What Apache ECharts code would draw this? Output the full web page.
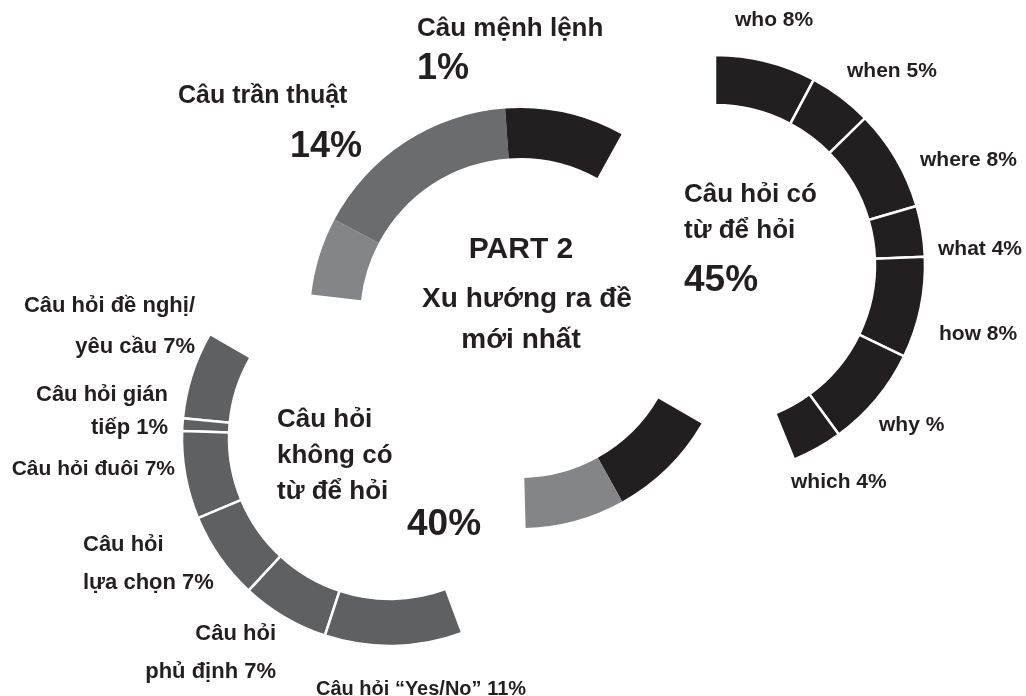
<!DOCTYPE html>
<html>
<head>
<meta charset="utf-8">
<script src="https://cdn.jsdelivr.net/npm/echarts@6/dist/echarts.min.js"></script>
<style>
html,body{margin:0;padding:0;background:#fff;}
#chart{width:1026px;height:696px;}
</style>
</head>
<body>
<div id="chart"></div>
<script>
// ---------- DATA ----------
const mainCategories = ['Câu mệnh lệnh', 'Câu trần thuật', 'Câu hỏi có từ để hỏi', 'Câu hỏi không có từ để hỏi'];
const mainPercents = [1, 14, 45, 40];

const whNames = ['who', 'when', 'where', 'what', 'how', 'why', 'which'];
const whValues = [8, 5, 8, 4, 8, 8, 4];          // "why" read as 8 (45 - others)
const whLabels = ['who 8%', 'when 5%', 'where 8%', 'what 4%', 'how 8%', 'why %', 'which 4%'];

const nonWhNames = ['Câu hỏi đề nghị/yêu cầu', 'Câu hỏi gián tiếp', 'Câu hỏi đuôi', 'Câu hỏi lựa chọn', 'Câu hỏi phủ định', 'Câu hỏi “Yes/No”'];
const nonWhValues = [7, 1, 7, 7, 7, 11];
const nonWhLabels = [
  ['Câu hỏi đề nghị/', 'yêu cầu 7%'],
  ['Câu hỏi gián', 'tiếp 1%'],
  ['Câu hỏi đuôi 7%'],
  ['Câu hỏi', 'lựa chọn 7%'],
  ['Câu hỏi', 'phủ định 7%'],
  ['Câu hỏi “Yes/No” 11%']
];

// central decorative ring (shares in % units, gaps included)
const centerKinds = ['light', 'gray', 'black', 'gap', 'black', 'light', 'gap'];
const centerValues = [6.15, 16.52, 9.40, 26.01, 8.75, 7.86, 27.91];

const FULL = 102.6; // share units that make a full turn

// ---------- STYLE ----------
const C_BLACK = '#231f20';
const C_GRAY = '#6b6c6e';
const C_LIGHT = '#848587';
const C_LEFT = '#5f6062';
const TXT = '#231f20';
const FONT = '"Liberation Sans", Arial, Helvetica, sans-serif';

function sum(a){ return a.reduce((s,v)=>s+v,0); }

const chart = echarts.init(document.getElementById('chart'), null, {renderer:'canvas'});

const whData = whValues.map((v,i)=>({name: whNames[i], value: v,
  itemStyle:{color:C_BLACK, borderColor:'#fff', borderWidth:2.5}}));
whData.push({name:'_fill', value: FULL - sum(whValues), itemStyle:{color:'rgba(0,0,0,0)', borderWidth:0}});

const nonWhData = nonWhValues.map((v,i)=>({name: nonWhNames[i], value: v,
  itemStyle:{color:C_LEFT, borderColor:'#fff', borderWidth:2.5}}));
nonWhData.push({name:'_fill', value: FULL - sum(nonWhValues), itemStyle:{color:'rgba(0,0,0,0)', borderWidth:0}});

const kindColor = {light:C_LIGHT, gray:C_GRAY, black:C_BLACK, gap:'rgba(0,0,0,0)'};
const centerData = centerValues.map((v,i)=>({name: centerKinds[i]+i, value: v,
  itemStyle:{color: kindColor[centerKinds[i]], borderWidth:0}}));

const pieBase = {
  type:'pie', silent:true, animation:false,
  label:{show:false}, labelLine:{show:false},
  emphasis:{disabled:true}, avoidLabelOverlap:false, minAngle:0
};

// ---------- TEXT LAYOUT ----------
const texts = [];
function T(text, x, y, size, align, weight){
  texts.push({type:'text', x:x, y:y, silent:true,
    style:{text:text, fill:TXT, font:(weight||'bold')+' '+size+'px '+FONT,
      textAlign:align||'left', textVerticalAlign:'middle'}});
}
// main categories
T(mainCategories[0], 417, 29, 26);
T(mainPercents[0] + '%', 417, 69, 36);
T(mainCategories[1], 178, 96, 25);
T(mainPercents[1] + '%', 290, 147, 36);
T('Câu hỏi có', 684, 195, 26);
T('từ để hỏi', 684, 231, 26);
T(mainPercents[2] + '%', 684, 281, 37);
T('Câu hỏi', 277, 420, 26);
T('không có', 277, 456, 26);
T('từ để hỏi', 277, 492, 26);
T(mainPercents[3] + '%', 407, 525, 37);
// title
T('PART 2', 521, 250, 30, 'center');
T('Xu hướng ra đề', 527, 299, 28, 'center');
T('mới nhất', 521, 340, 28, 'center');
// wh labels
const whPos = [[735,20],[847,71],[920,160],[938,249],[939,334],[879,425],[791,482]];
whLabels.forEach((t,i)=>T(t, whPos[i][0], whPos[i][1], 21));
// non-wh labels
const nonWhPos = [
  [[195,306,'right',22],[195,347,'right',22]],
  [[168,395,'right',22],[168,428,'right',22]],
  [[175,469,'right',21]],
  [[83,545,'left',22],[83,583,'left',22]],
  [[276,634,'right',22],[276,672,'right',22]],
  [[316,689,'left',20]]
];
nonWhLabels.forEach((lines,i)=>lines.forEach((t,j)=>{
  const p = nonWhPos[i][j]; T(t, p[0], p[1], p[3], p[2]);
}));

chart.setOption({
  backgroundColor:'#fff',
  animation:false,
  series:[
    Object.assign({}, pieBase, {name:'center', center:[520,318], radius:[160,210],
      startAngle:173.6, clockwise:true, data:centerData}),
    Object.assign({}, pieBase, {name:'wh', center:[715,265], radius:[160,210],
      startAngle:90, clockwise:true, data:whData}),
    Object.assign({}, pieBase, {name:'nonwh', center:[390,438], radius:[161,208],
      startAngle:150, clockwise:false, data:nonWhData})
  ],
  graphic: texts
});
</script>
</body>
</html>
